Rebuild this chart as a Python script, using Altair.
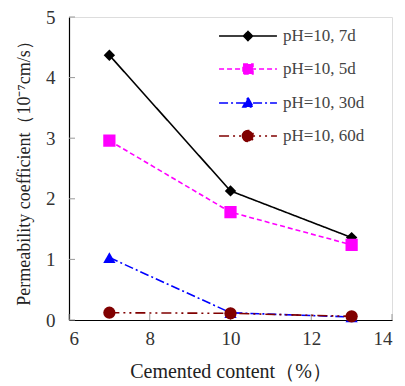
import altair as alt
import pandas as pd

content = [7, 10, 13]
series_names = ["pH=10, 7d", "pH=10, 5d", "pH=10, 30d", "pH=10, 60d"]
vals_7d = [4.37, 2.13, 1.36]
vals_5d = [2.96, 1.78, 1.24]
vals_30d = [1.03, 0.12, 0.05]
vals_60d = [0.12, 0.11, 0.06]

x_ticks = [6, 8, 10, 12, 14]
y_ticks = [0, 1, 2, 3, 4, 5]

colors = ["#000000", "#FF00FF", "#0000FF", "#800000"]
dashes = [[1, 0], [5, 3], [9, 3, 2, 3], [10, 4, 2, 4, 2, 4]]
shapes = ["diamond", "square", "triangle-up", "circle"]
sizes = [130, 150, 150, 150]
legend_paths = [
    "M-1.93,0H1.93M-0.3,0L0,-0.3L0.3,0L0,0.3Z",
    "M-1.93,0H1.93M-0.33,-0.33H0.33V0.33H-0.33Z",
    "M-1.93,0H1.93M0,-0.36L0.34,0.26H-0.34Z",
    "M-1.93,0H1.93M-0.37,0A0.37,0.37,0,1,1,0.37,0A0.37,0.37,0,1,1,-0.37,0Z",
]

rows = []
for name, vals in zip(series_names, [vals_7d, vals_5d, vals_30d, vals_60d]):
    for c, v in zip(content, vals):
        rows.append({"content": c, "k": v, "series": name})
df = pd.DataFrame(rows)

FONT = "Liberation Serif"

x_enc = alt.X(
    "content:Q",
    scale=alt.Scale(domain=[6, 14], nice=False, zero=False),
    axis=alt.Axis(
        values=x_ticks,
        format="d",
        title="Cemented content（%）",
        grid=False,
        ticks=False,
        domainColor="#000000",
        domainWidth=1.2,
        labelFont=FONT,
        labelFontSize=19,
        labelColor="#333333",
        labelPadding=9,
        titleFont=FONT,
        titleFontSize=20,
        titleFontWeight="normal",
        titleColor="#222222",
        titlePadding=13,
    ),
)
y_enc = alt.Y(
    "k:Q",
    scale=alt.Scale(domain=[0, 5], nice=False),
    axis=alt.Axis(
        values=y_ticks,
        format="d",
        title="Permeability coefficient（10⁻⁷cm/s）",
        grid=False,
        ticks=False,
        domainColor="#000000",
        domainWidth=1.2,
        labelFont=FONT,
        labelFontSize=19,
        labelColor="#333333",
        labelPadding=14,
        titleFont=FONT,
        titleFontSize=18,
        titleFontWeight="normal",
        titleColor="#222222",
        titlePadding=12,
    ),
)

color_scale = alt.Scale(domain=series_names, range=colors)
dash_scale = alt.Scale(domain=series_names, range=dashes)

legend = alt.Legend(
    title=None,
    orient="none",
    legendX=163,
    legendY=3,
    padding=0,
    symbolSize=900,
    symbolStrokeWidth=1.6,
    rowPadding=9,
    labelOffset=19,
    labelFont=FONT,
    labelFontSize=17,
    labelColor="#444444",
)

lines = alt.Chart(df).mark_line(strokeWidth=1.6).encode(
    x=x_enc,
    y=y_enc,
    color=alt.Color("series:N", scale=color_scale, legend=legend),
    strokeDash=alt.StrokeDash("series:N", scale=dash_scale, legend=legend),
    detail="series:N",
    order="content:Q",
)

legend_layer = alt.Chart(df).mark_point(filled=True, opacity=1).encode(
    x="content:Q",
    y="k:Q",
    color=alt.Color("series:N", scale=color_scale, legend=legend),
    shape=alt.Shape("series:N", scale=alt.Scale(domain=series_names, range=legend_paths), legend=legend),
    strokeDash=alt.StrokeDash("series:N", scale=dash_scale, legend=legend),
).transform_filter("false")

point_layers = []
for name, col, shp, sz in zip(series_names, colors, shapes, sizes):
    point_layers.append(
        alt.Chart(df)
        .mark_point(filled=True, opacity=1, shape=shp, size=sz, color=col)
        .encode(x="content:Q", y="k:Q")
        .transform_filter(alt.datum.series == name)
    )

ydf = pd.DataFrame({"k": y_ticks})
xdf = pd.DataFrame({"content": x_ticks})
y_tick_rules = alt.Chart(ydf).mark_rule(color="#999999", strokeWidth=1).encode(
    y="k:Q", x=alt.value(0), x2=alt.value(6)
)
x_tick_rules = alt.Chart(xdf).mark_rule(color="#999999", strokeWidth=1).encode(
    x="content:Q", y=alt.value(303), y2=alt.value(297)
)

chart = (
    alt.layer(y_tick_rules, x_tick_rules, lines, *point_layers, legend_layer)
    .properties(
        width=323,
        height=303,
        autosize=alt.AutoSizeParams(type="none"),
        padding={"left": 69, "top": 17, "right": 13, "bottom": 66},
    )
    .configure_view(stroke=None)
    .configure(background="#ffffff", font=FONT)
)

chart.save("out.html", embed_options={"renderer": "svg", "actions": False})
